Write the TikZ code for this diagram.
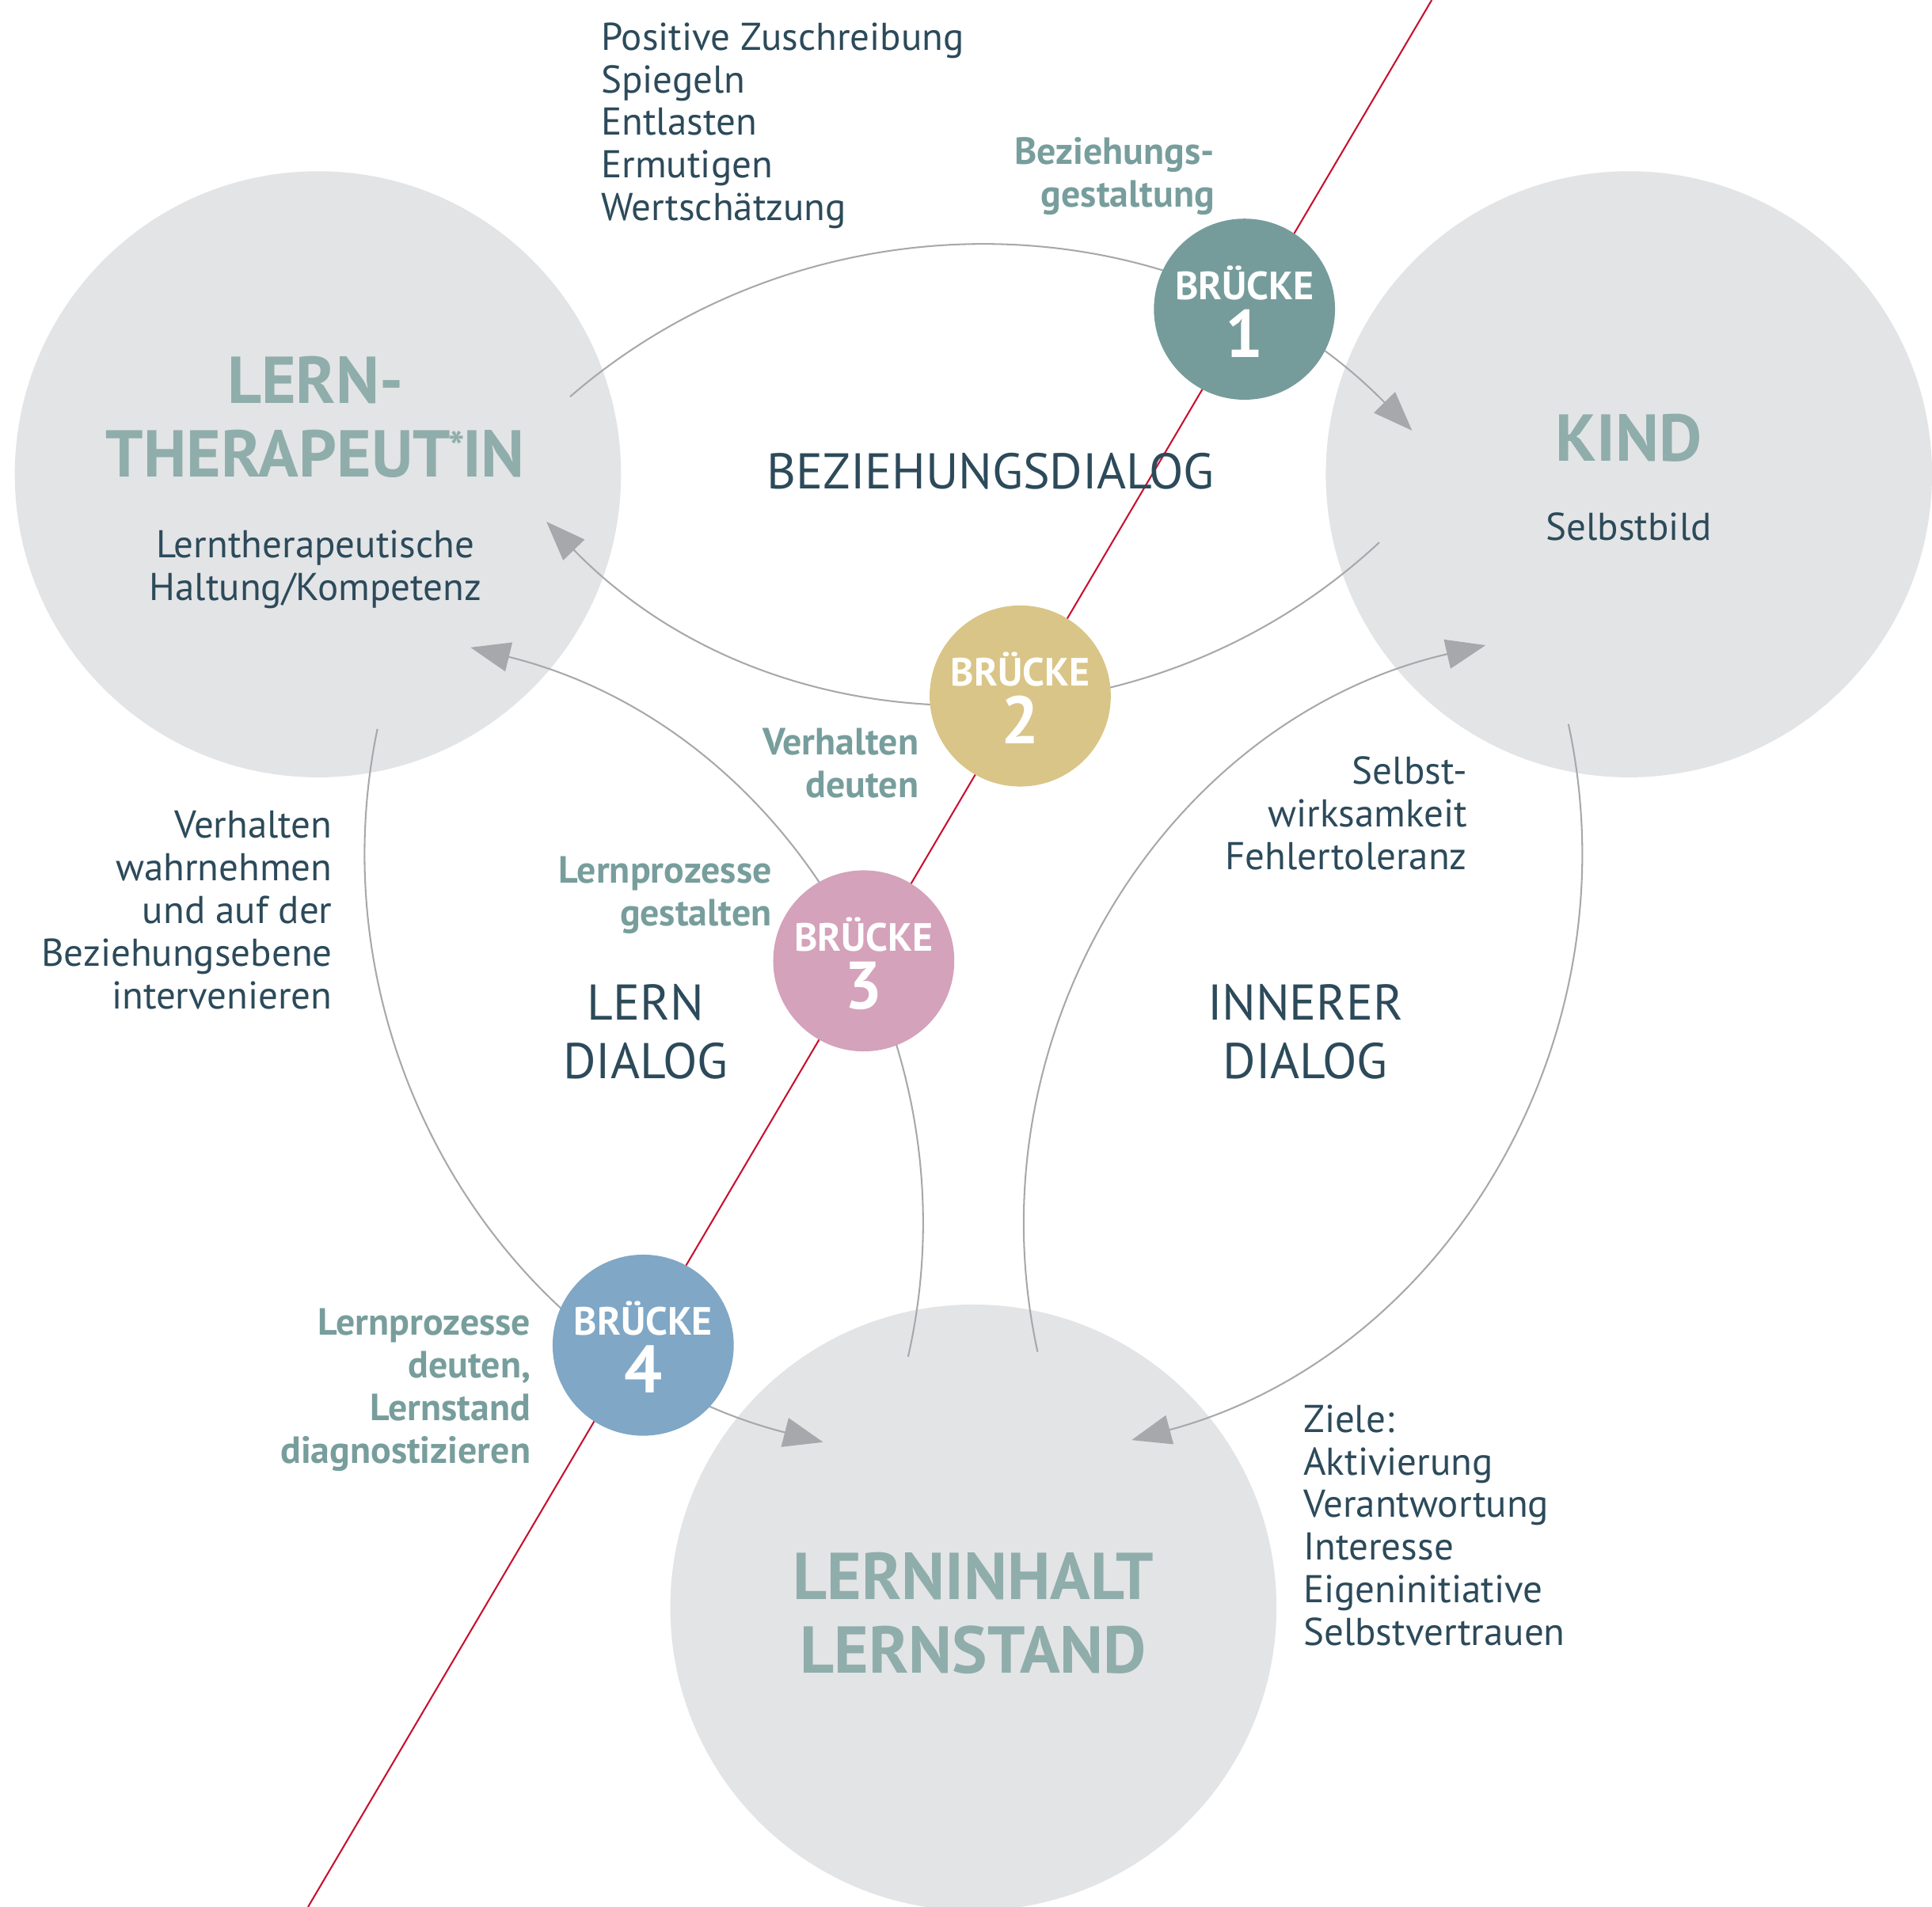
\documentclass[tikz,border=0pt]{standalone}
\usepackage{fontspec}
\setmainfont{PT Sans}
\usetikzlibrary{arrows.meta}

\definecolor{circlegray}{HTML}{E3E4E6}
\definecolor{textdark}{HTML}{2C4A5A}
\definecolor{titleteal}{HTML}{8FADAB}
\definecolor{cueteal}{HTML}{779E9C}
\definecolor{arrowgray}{HTML}{A7A8AB}
\definecolor{axisred}{HTML}{C8102E}
\definecolor{bOne}{HTML}{759C9B}
\definecolor{bTwo}{HTML}{D9C587}
\definecolor{bThree}{HTML}{D4A2BA}
\definecolor{bFour}{HTML}{80A7C5}

\begin{document}
\begin{tikzpicture}[x=0.2mm, y=-0.2mm,
    party/.style={circle, fill=circlegray, minimum size=98.4mm, inner sep=0pt},
    bridge/.style={circle, minimum size=29.4mm, inner sep=0pt},
    brname/.style={anchor=base, text=white, inner sep=0pt, font=\bfseries\fontsize{18.2}{20}\selectfont},
    brnum/.style={anchor=base, text=white, inner sep=0pt, font=\bfseries\fontsize{31}{34}\selectfont},
    plain/.style={text=textdark, inner sep=0pt, font=\fontsize{17.9}{19.7}\selectfont},
    cue/.style={text=cueteal, inner sep=0pt, font=\bfseries\fontsize{17.5}{19.7}\selectfont},
    dialog/.style={text=textdark, inner sep=0pt, font=\fontsize{23.2}{27.2}\selectfont},
    title/.style={text=titleteal, inner sep=0pt, font=\bfseries\fontsize{30.6}{33.9}\selectfont},
    flow/.style={draw=arrowgray, line width=0.75pt, -{Triangle[length=6.4mm, width=4.8mm]}}]
    \useasboundingbox (0,0) rectangle (1568,1548);

    \node[party] (lt) at (258,385) {};
    \node[party] (kind) at (1322,385) {};
    \node[party] (inhalt) at (790,1305) {};

    \coordinate (axistop) at (1162,0);
    \coordinate (axisbottom) at (250,1548);
    \draw[axisred, line width=0.75pt] (axistop) -- (axisbottom);

    \coordinate (bez-s) at (462.7,322);
    \coordinate (bez-e) at (1146,349.5);
    \coordinate (bezback-s) at (1119.4,440.3);
    \coordinate (bezback-e) at (443.5,423.5);
    \coordinate (lern-s) at (306.3,591.8);
    \coordinate (lern-e) at (668,1170.7);
    \coordinate (lernback-s) at (737,1101.4);
    \coordinate (lernback-e) at (381.9,525.6);
    \coordinate (inner-s) at (1272.9,587.8);
    \coordinate (inner-e) at (918.4,1169);
    \coordinate (innerback-s) at (842.1,1097.4);
    \coordinate (innerback-e) at (1205.7,523.8);
    \draw[flow] (bez-s) .. controls (661,150) and (962.4,162) .. (bez-e);
    \draw[flow] (bezback-s) .. controls (927.2,619.5) and (626.6,612) .. (bezback-e);
    \draw[flow] (lern-s) .. controls (252.7,850.4) and (412.1,1105.5) .. (lern-e);
    \draw[flow] (lernback-s) .. controls (795.3,844.7) and (637.4,588.7) .. (lernback-e);
    \draw[flow] (inner-s) .. controls (1328.4,845.1) and (1172.5,1100.6) .. (inner-e);
    \draw[flow] (innerback-s) .. controls (785.7,838.9) and (947.8,583.2) .. (innerback-e);

    \node[bridge, fill=bOne] (b1) at (1010,251) {};
    \node[bridge, fill=bTwo] (b2) at (828,565) {};
    \node[bridge, fill=bThree] (b3) at (701,780) {};
    \node[bridge, fill=bFour] (b4) at (522,1092) {};
    \node[brname] (b1-name) at ([yshift=1.6mm]b1.center) {BRÜCKE};
    \node[brnum] (b1-num) at ([yshift=-7.8mm]b1.center) {1};
    \node[brname] (b2-name) at ([yshift=1.6mm]b2.center) {BRÜCKE};
    \node[brnum] (b2-num) at ([yshift=-7.8mm]b2.center) {2};
    \node[brname] (b3-name) at ([yshift=1.6mm]b3.center) {BRÜCKE};
    \node[brnum] (b3-num) at ([yshift=-7.8mm]b3.center) {3};
    \node[brname] (b4-name) at ([yshift=1.6mm]b4.center) {BRÜCKE};
    \node[brnum] (b4-num) at ([yshift=-7.8mm]b4.center) {4};

    \node[title, anchor=north, align=center] (lt-title) at (256,289) {LERN-\\THERAPEUT\kern-1pt\raisebox{6.5pt}{\fontsize{20}{20}\selectfont*}\kern-1pt IN};
    \node[plain, anchor=north, align=center] (lt-sub) at (256,430) {Lerntherapeutische\\Haltung/Kompetenz};
    \node[title, anchor=north] (kind-title) at (1322,336) {KIND};
    \node[plain, anchor=north] (kind-sub) at (1322,416) {Selbstbild};
    \node[title, anchor=north, align=center] (inhalt-title) at (790,1260) {LERNINHALT\\LERNSTAND};

    \node[dialog, anchor=base] (bez-dialog) at (804,396.7) {BEZIEHUNGSDIALOG};
    \node[dialog, anchor=north, align=center] (lern-dialog) at (524,798.5) {LERN\\DIALOG};
    \node[dialog, anchor=north, align=center] (inner-dialog) at (1059.5,798.5) {INNERER\\DIALOG};

    \node[plain, anchor=north west, align=left] (mirroring) at (487.6,18) {Positive Zuschreibung\\Spiegeln\\Entlasten\\Ermutigen\\Wertschätzung};
    \node[plain, anchor=north east, align=right] (selfeff) at (1191,614) {Selbst-\\wirksamkeit\\Fehlertoleranz};
    \node[plain, anchor=north east, align=right] (perceive) at (270,658) {Verhalten\\wahrnehmen\\und auf der\\Beziehungsebene\\intervenieren};
    \node[plain, anchor=north west, align=left] (goals) at (1057.6,1140) {Ziele:\\Aktivierung\\Verantwortung\\Interesse\\Eigeninitiative\\Selbstvertrauen};

    \node[cue, anchor=north east, align=right] (cue-b1) at (986,111) {Beziehungs-\\gestaltung};
    \node[cue, anchor=north east, align=right] (cue-b2) at (746,590.7) {Verhalten\\deuten};
    \node[cue, anchor=north east, align=right] (cue-b3) at (626.6,695) {Lernprozesse\\gestalten};
    \node[cue, anchor=north east, align=right] (cue-b4) at (431,1062) {Lernprozesse\\deuten,\\Lernstand\\diagnostizieren};
\end{tikzpicture}
\end{document}
